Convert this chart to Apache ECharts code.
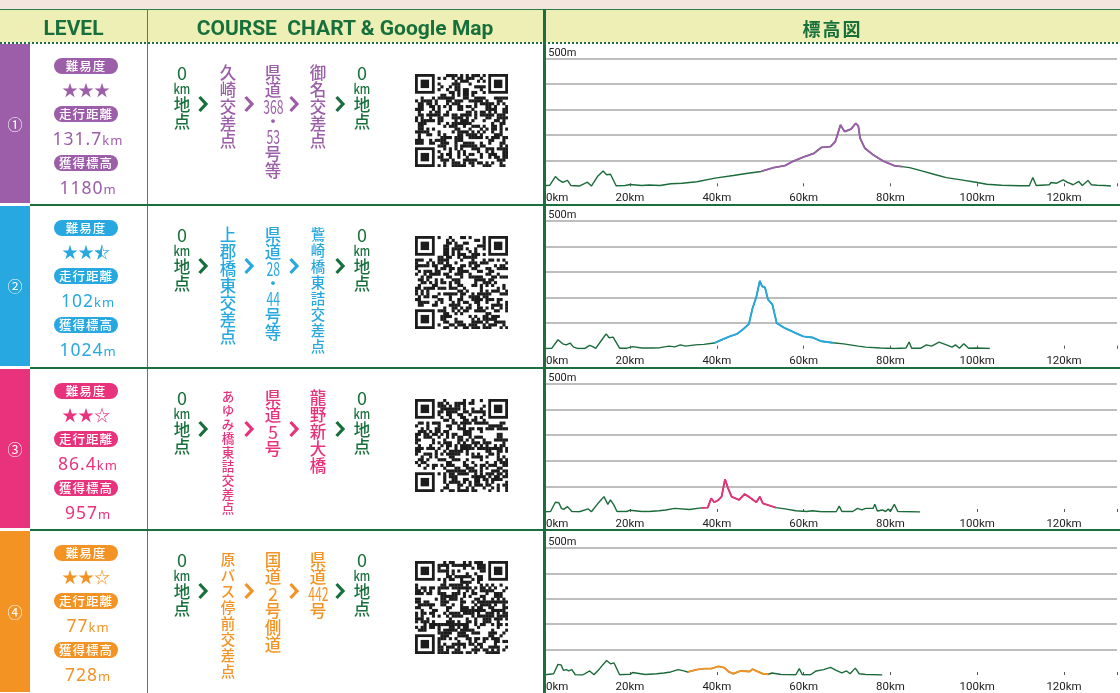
<!DOCTYPE html>
<html><head><meta charset="utf-8">
<script src="https://cdn.jsdelivr.net/npm/echarts@6/dist/echarts.min.js"></script>
<style>
html,body{margin:0;padding:0;background:#fff;}
#page{position:relative;width:1120px;height:693px;overflow:hidden;background:#fff;font-family:"Noto Sans CJK JP","Noto Sans",sans-serif;}
.a{position:absolute;}
.tok{display:block;text-align:center;white-space:nowrap;}
</style></head>
<body><div id="page"><div id="chart" class="a" style="left:0;top:0;width:1120px;height:693px;z-index:1"></div></div>
<script>
// ---------- data ----------
const courseNumbers = ['①','②','③','④'];
const difficultyStars = [3, 2.5, 2, 2];
const distanceValues = ['131.7','102','86.4','77'];
const climbValues = ['1180','1024','957','728'];
const routeStops = [
  ['久崎交差点', ['県','道','368','・','53','号','等'], '御名交差点'],
  ['上郡橋東交差点', ['県','道','28','・','44','号','等'], '鴜崎橋東詰交差点'],
  ['あゆみ橋東詰交差点', ['県','道','5','号'], '龍野新大橋'],
  ['原バス停前交差点', ['国','道','2','号','側','道'], ['県','道','442','号']]
];
const xTickLabels = ['0km','20km','40km','60km','80km','100km','120km'];
const yTopLabel = '500m';

const elevation1 = [[0,2],[1.5,4],[2.8,38],[3.6,25],[4.5,15],[5.6,23],[6.4,3],[8.3,1],[10.2,16],[11.1,1],[12.5,38],[13.8,60],[14.6,45],[15.5,47],[16.8,2],[18.9,3],[20,7],[22.7,3],[24.4,5],[26.9,3],[29.4,10],[32,12],[35.4,18],[39.6,32],[43.8,42],[47.2,51],[50.2,58],[53.1,73],[55.7,81],[57.4,96],[59.9,114],[62.4,129],[64.1,152],[66.2,155],[67.3,175],[68.5,240],[69.4,214],[70.1,218],[70.9,223],[72,246],[72.6,236],[73,188],[74.1,149],[76,123],[78.5,97],[81,80],[82.7,77],[84.4,73],[87,61],[90.4,45],[92.9,34],[96.3,25],[99.7,16],[102.2,8],[105.6,4],[109.8,2],[112,2],[112.8,34],[113.6,3],[116.6,6],[117,15],[118.3,12],[119.8,25],[120.8,15],[122.1,6],[123.4,19],[124.2,3],[125.5,23],[126.3,6],[127.6,4],[129.3,3],[130.8,1]];
const elevation2 = [[0.5,1],[2,2],[3.4,35],[4.5,19],[5.3,15],[6.2,22],[7,6],[7.9,1],[9.6,1],[10.7,13],[11.3,9],[12.1,1],[13.4,32],[14.5,58],[15.2,43],[16.1,45],[17.6,2],[19.3,2],[20.6,8],[22.7,3],[25.2,3],[26.9,4],[29,10],[30.3,7],[31.6,15],[32.8,10],[35,15],[37,17],[39.4,22],[41.3,36],[43,48],[44.7,58],[46.2,78],[47.4,97],[48.2,156],[49.1,202],[49.9,265],[50.4,244],[51.1,239],[51.8,192],[52.8,173],[53.8,100],[55.7,80],[58.2,61],[59.9,48],[62,44],[64.1,29],[66.7,23],[69.2,19],[72.6,10],[74.3,6],[77.7,3],[81,1],[83.6,3],[84.3,26],[84.9,2],[87,2],[88.3,15],[89.5,10],[91.2,26],[92.9,15],[94.2,6],[95,15],[95.9,2],[96.9,19],[98,2],[99.7,3],[101.4,2],[102.9,1]];
const elevation3 = [[0.5,1],[1.7,2],[2.8,38],[3.6,36],[4.2,14],[4.7,10],[5.6,21],[6.6,2],[8.3,1],[10.4,12],[11.1,1],[12.5,31],[14,60],[14.9,30],[15.5,47],[16.3,27],[17,2],[19.3,2],[20,7],[22.7,2],[24.4,2],[26.7,5],[28.2,8],[30.3,14],[33.7,10],[36.4,16],[37.9,17],[38.7,53],[39.4,38],[40.4,47],[41.1,60],[41.9,128],[42.6,92],[43.4,60],[45.1,47],[46.4,70],[47.6,57],[49.1,38],[49.9,60],[50.6,34],[53.6,17],[55.7,12],[58.2,5],[60.7,2],[62,5],[64.1,1],[67.5,1],[68.2,23],[68.8,2],[71.3,2],[72.4,14],[73.4,8],[74.3,14],[76,14],[76.4,30],[77,4],[78.1,8],[78.9,2],[79.5,12],[80,2],[80.9,30],[81.7,2],[84.4,1],[86.8,0]];
const elevation4 = [[0.5,1],[2.4,5],[3.4,42],[4.1,40],[4.7,18],[5.3,21],[5.9,16],[6.6,21],[7.4,1],[9.1,0],[10.7,16],[11.7,1],[13,25],[14.6,57],[15.5,44],[16.3,48],[17.6,1],[20.1,3],[20.6,10],[23.5,2],[26.1,5],[27.8,8],[29.4,12],[31.1,21],[32.4,16],[33.3,12],[35.4,21],[37.1,25],[38.7,25],[40.4,34],[41.7,29],[42.8,12],[43.8,5],[45.5,16],[47.6,14],[48.2,23],[49.3,14],[50.6,5],[51.9,3],[52.7,8],[54.8,2],[58.2,1],[59,25],[59.7,1],[61.6,1],[62.9,16],[64.6,21],[66.2,30],[67.5,18],[68.8,8],[69.9,16],[70.7,5],[71.9,27],[72.8,5],[74.3,2],[76.4,1],[78.1,0]];
const climbRanges = [[50.2,82.7],[39.4,66.7],[36.4,53.6],[33.3,51.9]];

// ---------- styles ----------
const colors = ['#9c5ea9','#27a8e0','#e8337c','#f39324'];
const green = '#17703c';
const rowTops = [44, 206, 369, 531];
const rowEnds = [203.5, 366.5, 528.5, 693];
const page = document.getElementById('page');
function el(style, html, parent){ const d=document.createElement('div'); d.className='a'; d.style.cssText=style; if(html!=null) d.innerHTML=html; (parent||page).appendChild(d); return d; }

el('left:0;top:0;width:1120px;height:9px;background:#f4e6dc;z-index:0');
el('left:0;top:9px;width:1120px;height:1px;background:#2a7a4a;z-index:3');
el('left:0;top:10px;width:1120px;height:32px;background:#eeefb4;z-index:0');
el('left:0;top:41.5px;width:1120px;height:2px;z-index:3;background:repeating-linear-gradient(90deg,#1c7040 0 1.7px,transparent 1.7px 4px)');
const hdr = 'z-index:2;top:13px;height:30px;line-height:30px;color:'+green+';font-family:Roboto,"Noto Sans",sans-serif;font-weight:700;font-size:21px;text-align:center;';
el(hdr+'left:0;width:147px;', 'LEVEL');
el(hdr+'left:147px;width:396px;', 'COURSE&nbsp;&nbsp;CHART &amp; Google Map');
el(hdr+'left:545px;width:575px;font-family:"Noto Sans CJK JP";font-size:18px;letter-spacing:2px;', '標高図');
el('left:146.5px;top:9px;width:1.5px;height:684px;background:#3f8a5c;z-index:3');
el('left:542.5px;top:9px;width:3px;height:684px;background:#1b6e3d;z-index:3');

function starsHtml(n){
  let s='';
  for(let k=0;k<3;k++){
    if(n>=k+1) s+='<span>★</span>';
    else if(n>k) s+='<span style="position:relative;display:inline-block">☆<span style="position:absolute;left:0;top:0;width:50%;overflow:hidden">★</span></span>';
    else s+='<span>☆</span>';
  }
  return s;
}
function tokenize(x){ return Array.isArray(x)?x:Array.from(x); }
function column(tokens, cx, top, color){
  const col = el('left:'+(cx-20)+'px;top:'+top+'px;width:40px;z-index:2;color:'+color+';font-weight:500;');
  const base = Math.min(17, 112/(tokens.length-1));
  tokens.forEach(t=>{
    let h=base, inner=t, fs=(base>=17?16.5:base*0.9);
    if(t==='・'){ h=13; }
    else if(t==='km'){ h=15; fs=13; inner='<span style="display:inline-block;transform:scaleX(0.85)">km</span>'; }
    else if(/^\d+$/.test(t) && t.length>1){ fs=18.5; inner='<span style="display:inline-block;font-weight:400;transform:scaleX(0.66)">'+t+'</span>'; }
    else if(/^\d$/.test(t)){ fs=18; inner='<span style="font-weight:400">'+t+'</span>'; }
    const d=document.createElement('div'); d.className='tok';
    d.style.cssText='height:'+h+'px;line-height:'+h+'px;font-size:'+fs+'px;';
    d.innerHTML=inner; col.appendChild(d);
  });
}
function chevron(cx, cy, color){
  el('left:'+(cx-6)+'px;top:'+(cy-9)+'px;width:12px;height:18px;z-index:2', '<svg width="12" height="18"><polyline points="2.5,2 9,9 2.5,16" fill="none" stroke="'+color+'" stroke-width="3.2"/></svg>');
}
function qr(left, top, seed){
  const n=33, size=93, c=document.createElement('canvas'); c.width=size; c.height=size;
  c.className='a'; c.style.cssText='left:'+left+'px;top:'+top+'px;z-index:2;filter:blur(0.35px)';
  const g=c.getContext('2d'); g.fillStyle='#fff'; g.fillRect(0,0,size,size);
  const m=size/n; g.fillStyle='#1c1c1c';
  const hash=(x,y)=>{const h=Math.sin(x*12.9898+y*78.233+seed*37.719)*43758.5453;return h-Math.floor(h);};
  const inFinder=(x,y)=>(x<8&&y<8)||(x>=n-8&&y<8)||(x<8&&y>=n-8);
  for(let y=0;y<n;y++)for(let x=0;x<n;x++){
    if(inFinder(x,y)) continue;
    if(hash(x,y)>0.5) g.fillRect(x*m,y*m,m+0.3,m+0.3);
  }
  [[0,0],[n-7,0],[0,n-7]].forEach(([fx,fy])=>{
    g.fillRect(fx*m,fy*m,7*m,7*m); g.fillStyle='#fff'; g.fillRect((fx+1)*m,(fy+1)*m,5*m,5*m);
    g.fillStyle='#1c1c1c'; g.fillRect((fx+2)*m,(fy+2)*m,3*m,3*m);
  });
  page.appendChild(c);
}

rowTops.forEach((t,i)=>{
  const c=colors[i], bottom=rowEnds[i];
  el('left:0;top:'+t+'px;width:30px;height:'+(bottom-t-1)+'px;background:'+c+';z-index:0');
  el('left:0;top:'+t+'px;width:30px;height:'+(bottom-t)+'px;line-height:'+(bottom-t)+'px;text-align:center;color:#fff;font-size:15px;z-index:2', courseNumbers[i]);
  if(i>0) el('left:30px;top:'+(t-2.5)+'px;width:1090px;height:2.5px;background:#1b6e3d;z-index:3');
  const off=[22,45,70,94,119,143];
  const pill=(cy,txt)=>el('left:54px;top:'+(t+cy-8)+'px;width:64px;height:16px;line-height:16px;border-radius:8px;background:'+c+';color:#fff;text-align:center;font-size:12.5px;font-weight:500;letter-spacing:1px;z-index:2', txt);
  pill(off[0],'難易度');
  el('left:40px;top:'+(t+off[1]-10)+'px;width:92px;height:20px;line-height:20px;text-align:center;color:'+c+';font-size:16px;z-index:2', starsHtml(difficultyStars[i]));
  pill(off[2],'走行距離');
  el('left:30px;top:'+(t+off[3]-11)+'px;width:116px;height:22px;line-height:22px;text-align:center;color:'+c+';font-family:"Noto Sans",sans-serif;font-size:17.5px;letter-spacing:1px;z-index:2', distanceValues[i]+'<span style="font-size:13px">km</span>');
  pill(off[4],'獲得標高');
  el('left:30px;top:'+(t+off[5]-11)+'px;width:116px;height:22px;line-height:22px;text-align:center;color:'+c+';font-family:"Noto Sans",sans-serif;font-size:17.5px;letter-spacing:1px;z-index:2', climbValues[i]+'<span style="font-size:13px">m</span>');
  const ct=t+19.5;
  column(['0','km','地','点'],182,ct,green);
  column(tokenize(routeStops[i][0]),228,ct,c);
  column(tokenize(routeStops[i][1]),273,ct,c);
  column(tokenize(routeStops[i][2]),318,ct,c);
  column(['0','km','地','点'],362,ct,green);
  chevron(203,t+59,green); chevron(249,t+59,c); chevron(294,t+59,c); chevron(340,t+59,green);
  qr(415, t+30, i+1);
});

// ---------- chart ----------
const elevations=[elevation1,elevation2,elevation3,elevation4];
const gridTops=[58.3,220.7,384,548];
const xMax=132.2;
const chart=echarts.init(document.getElementById('chart'),null,{renderer:'canvas'});
const series=[];
elevations.forEach((d,i)=>{
  series.push({type:'line',xAxisIndex:i,yAxisIndex:i,data:d,symbol:'none',lineStyle:{color:'#1b6b3a',width:1.4},z:2});
  const [s,e]=climbRanges[i];
  series.push({type:'line',xAxisIndex:i,yAxisIndex:i,data:d.filter(p=>p[0]>=s&&p[0]<=e),symbol:'none',lineStyle:{color:colors[i],width:1.9},z:3});
});
chart.setOption({
  animation:false,
  backgroundColor:'transparent',
  grid:gridTops.map(t=>({left:543.2,right:0,top:t,height:128})),
  xAxis:gridTops.map((t,i)=>({gridIndex:i,type:'value',min:0,max:xMax,interval:20,
    axisLine:{show:false},
    axisTick:{show:true,inside:true,length:3,lineStyle:{color:'#555',width:1}},
    axisLabel:{margin:6,color:'#222',fontSize:11.5,fontFamily:'Roboto',
      formatter:v=>{const k=Math.round(v/20); if(Math.abs(v-k*20)>1e-6||!xTickLabels[k]) return ''; return k===0?'{z|'+xTickLabels[0]+'}':xTickLabels[k];},
      rich:{z:{padding:[0,0,0,28],fontSize:11.5,color:'#222',fontFamily:'Roboto'}}},
    splitLine:{show:false}})),
  yAxis:gridTops.map((t,i)=>({gridIndex:i,type:'value',min:0,max:500,interval:100,
    axisLine:{show:false},axisTick:{show:false},
    axisLabel:{inside:true,margin:5,verticalAlign:'bottom',color:'#222',fontSize:11,fontFamily:'Roboto',
      formatter:v=>v===500?yTopLabel:''},
    splitLine:{show:true,showMinLine:false,lineStyle:{color:'#a9a9a9',width:1.5}}})),
  series:series
});
</script></body></html>
